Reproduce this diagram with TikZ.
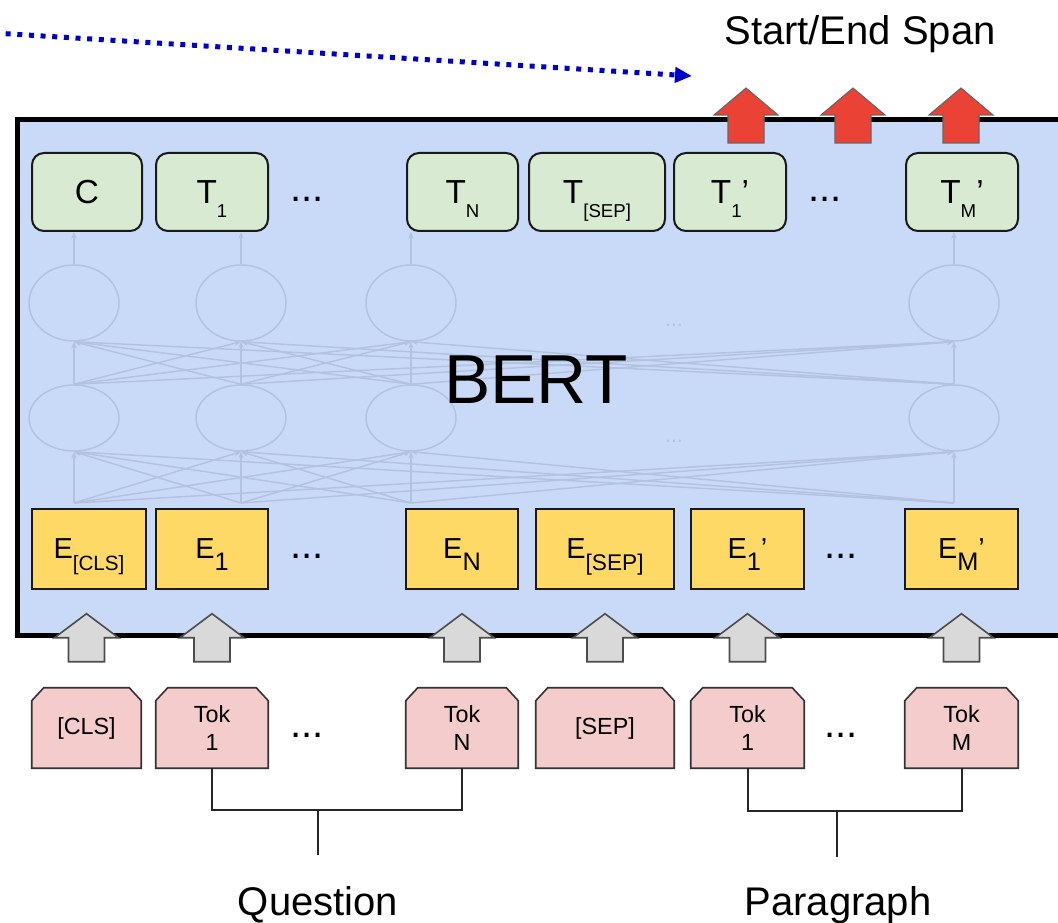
\documentclass[tikz,border=0pt]{standalone}
\usepackage{fontspec}
\setmainfont{Liberation Sans}
\usetikzlibrary{shapes.geometric,arrows.meta,calc,backgrounds}
\definecolor{bertbg}{HTML}{C9DAF8}
\definecolor{tgreen}{HTML}{D9EAD3}
\definecolor{eyellow}{HTML}{FFD966}
\definecolor{tokpink}{HTML}{F4CCCC}
\definecolor{spanred}{HTML}{EA4335}
\definecolor{upgray}{HTML}{D9D9D9}
\definecolor{netcol}{HTML}{B3C2DE}
\definecolor{dotblue}{HTML}{0000CC}
\newcommand\fs[1]{\fontsize{#1}{#1}\selectfont}
\newcommand\tsub[1]{\raisebox{-10.5pt}[0pt][0pt]{\fs{14pt}#1}}
\newcommand\esub[2]{\raisebox{-9pt}[0pt][0pt]{\fs{#1}#2}}
\begin{document}
\begin{tikzpicture}[x=0.75pt,y=-0.75pt,
  tbox/.style={draw=black!90, line width=1.5pt, fill=tgreen, rounded corners=9pt, minimum height=58.5pt, inner sep=0pt, font=\fs{25pt}},
  ebox/.style={draw=black!90, line width=1.5pt, fill=eyellow, minimum height=60pt, inner sep=0pt, font=\fs{21.7pt}},
  tok/.style={minimum height=60pt, inner sep=0pt, align=center, font=\fontsize{17.5pt}{21pt}\selectfont},
  tokshape/.style={draw=black!80, line width=1.2pt, fill=tokpink},
  bertframe/.style={draw=black, line width=3.75pt, fill=bertbg, inner sep=0pt},
  net/.style={draw=netcol, line width=1.1pt},
  netarr/.style={net, -{Stealth[length=5pt,width=4pt]}},
  neuron/.style={ellipse, draw=netcol, line width=1.1pt, inner sep=0pt},
  netdots/.style={text=netcol, font=\fs{16pt}},
  dots/.style={font=\fs{30pt}},
  bracket/.style={draw=black!85, line width=1.5pt},
  lbl/.style={font=\fs{30pt}, anchor=base},
  dotarrow/.style={draw=dotblue, line width=3.75pt, dash pattern=on 3.75pt off 5pt, -{Triangle[length=12.75pt,width=11.25pt]}},
  grayup/.pic={\path[draw=black!70, line width=1.2pt, fill=upgray] (-18,0) -- (-18,-24) -- (-32,-24) -- (0,-48) -- (32,-24) -- (18,-24) -- (18,0) -- cycle;},
  redup/.pic={\path[draw=black!60, line width=0.8pt, fill=spanred] (-18,0) -- (-18,-28) -- (-32,-28) -- (0,-55) -- (32,-28) -- (18,-28) -- (18,0) -- cycle;}
]
\useasboundingbox (0,0) rectangle (1058,923);

% BERT container
\node[bertframe, anchor=north west, minimum width=795pt, minimum height=387pt] (bertbox) at (15,117) {};

% faded network
\foreach \x [count=\i] in {74,241,411,954} {
  \node[neuron, minimum width=67.5pt, minimum height=57pt] (u\i) at (\x,303) {};
  \node[neuron, minimum width=67.5pt, minimum height=49.5pt] (l\i) at (\x,418) {};
  \coordinate (b\i) at (\x,503);
}
\foreach \i in {1,...,4} {
  \foreach \j in {1,...,4} {
    \draw[netarr] (b\i) -- (l\j.south);
    \draw[netarr] (l\i.north) -- (u\j.south);
  }
}
\node[netdots] (nd1) at (674,325) {...};
\node[netdots] (nd2) at (674,441) {...};

\node[font=\fs{52pt}] (bert) at (536,380) {BERT};

% T row
\node[tbox, minimum width=82.5pt] (tc) at (87,192) {C};
\node[tbox, minimum width=84pt] (t1) at (212,192) {T\tsub{1}};
\node[dots] (tdl) at (307,199) {...};
\node[tbox, minimum width=83.25pt] (tn) at (462.5,192) {T\tsub{N}};
\node[tbox, minimum width=102pt] (tsep) at (597,192) {T\tsub{[SEP]}};
\node[tbox, minimum width=84pt] (t1p) at (730,192) {T\tsub{1}’};
\node[dots] (tdr) at (825,199) {...};
\node[tbox, minimum width=84pt] (tmp) at (962,192) {T\tsub{M}’};

\foreach \i/\t in {1/tc,2/t1,3/tn,4/tmp} \draw[netarr] (u\i.north) -- (u\i.north |- \t.south);

% E row
\node[ebox, minimum width=85.5pt] (ecls) at (89,549) {E\esub{15.5pt}{[CLS]}};
\node[ebox, minimum width=84pt] (e1) at (212,549) {E\esub{19pt}{1}};
\node[dots] (edl) at (307,556) {...};
\node[ebox, minimum width=84pt] (en) at (462,549) {E\esub{19pt}{N}};
\node[ebox, minimum width=103.5pt] (esep) at (605,549) {E\esub{17pt}{[SEP]}};
\node[ebox, minimum width=84.75pt] (e1p) at (747.5,549) {E\esub{19pt}{1}’};
\node[dots] (edr) at (841,556) {...};
\node[ebox, minimum width=84.75pt] (emp) at (961.5,549) {E\esub{19pt}{M}’};

% red output arrows
\pic at (746,143) {redup};
\pic at (853,143) {redup};
\pic at (961,143) {redup};

% token row
\node[tok, minimum width=81.75pt] (k0) at (86.5,728) {[CLS]};
\node[tok, minimum width=84pt] (k1) at (212,728) {Tok\\1};
\node[dots] (kdl) at (307,735) {...};
\node[tok, minimum width=84pt] (kn) at (462,728) {Tok\\N};
\node[tok, minimum width=103.5pt] (ks) at (605,728) {[SEP]};
\node[tok, minimum width=84.75pt] (k1p) at (747.5,728) {Tok\\1};
\node[dots] (kdr) at (841,735) {...};
\node[tok, minimum width=84.75pt] (kmp) at (961.5,728) {Tok\\M};
\begin{scope}[on background layer]
\foreach \n in {k0,k1,kn,ks,k1p,kmp} {
  \path[tokshape] (\n.south west) -- ($(\n.north west)+(0,13)$) -- ($(\n.north west)+(12,0)$) -- ($(\n.north east)+(-12,0)$) -- ($(\n.north east)+(0,13)$) -- (\n.south east) -- cycle;
}
\end{scope}

% gray input arrows
\foreach \n in {k0,k1,kn,ks,k1p,kmp} \pic at ($(\n.north)+(0,-26)$) {grayup};

% brackets and labels
\coordinate (qj) at (318,810);
\coordinate (qe) at (318,855);
\coordinate (pj) at (837,811);
\coordinate (pe) at (837,857);
\draw[bracket] (k1.south) |- (kn.south |- qj) -- (kn.south);
\draw[bracket] (qj) -- (qe);
\draw[bracket] (k1p.south) |- (kmp.south |- pj) -- (kmp.south);
\draw[bracket] (pj) -- (pe);
\node[lbl] (qlab) at (318,915) {Question};
\node[lbl] (plab) at (838,915) {Paragraph};

% output label and dotted pointer
\node[lbl] (span) at (860,45) {Start/End Span};
\coordinate (dotstart) at (-6,33);
\coordinate (dotend) at (692,76);
\draw[dotarrow] (dotstart) -- (dotend);
\end{tikzpicture}
\end{document}
